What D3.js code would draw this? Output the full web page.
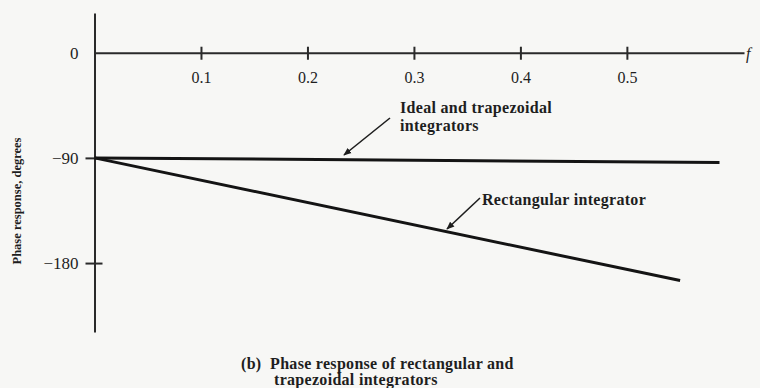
<!DOCTYPE html>
<html>
<head>
<meta charset="utf-8">
<script src="https://cdn.jsdelivr.net/npm/d3@7"></script>
<style>
  body { margin: 0; background: #f7f7f5; }
  svg { display: block; }
  .axis path, .axis line { stroke: #2a2a2a; stroke-width: 2; }
  .axis text { font-family: "Liberation Serif", serif; font-size: 16px; fill: #1e1e1e; }
  .axis--y text { font-size: 17px; }
  .lbl { font-family: "Liberation Serif", serif; font-weight: bold; fill: #1e1e1e; white-space: pre; }
</style>
</head>
<body>
<script>
// normalized frequency f
var freqIdeal = [0, 0.587];
var phaseIdeal = [-90, -94];      // ideal and trapezoidal integrators
var freqRect = [0, 0.55];
var phaseRect = [-90, -195];      // rectangular integrator
var xTicks = [0.1, 0.2, 0.3, 0.4, 0.5];
var yTicks = [0, -90, -180];

var width = 760, height = 388;

var svg = d3.select("body").append("svg")
    .attr("width", width)
    .attr("height", height);

var x = d3.scaleLinear().domain([0, 0.61]).range([94.5, 744]);
var y = d3.scaleLinear().domain([34, -239]).range([13, 332]);

// axis-x (through phase = 0)
var gx = svg.append("g")
    .attr("class", "axis axis--x")
    .attr("transform", "translate(0," + y(0) + ")")
    .call(d3.axisBottom(x).tickValues(xTicks).tickSizeOuter(0).tickFormat(d3.format(".1f")));
gx.selectAll(".tick line").attr("y1", -6).attr("y2", 7);
gx.selectAll(".tick text").attr("y", 19).attr("dy", "0.71em");

svg.append("text")
    .attr("x", 746)
    .attr("y", y(0) + 6)
    .attr("font-family", "Liberation Serif, serif")
    .attr("font-style", "italic")
    .attr("font-size", "16px")
    .attr("fill", "#1e1e1e")
    .text("f");

// axis-y
var gy = svg.append("g")
    .attr("class", "axis axis--y")
    .attr("transform", "translate(" + x(0) + ",0)")
    .call(d3.axisLeft(y).tickValues(yTicks).tickSizeOuter(0));
gy.selectAll(".tick line")
    .attr("x1", function(d) { return d === 0 ? 0 : -9; })
    .attr("x2", function(d) { return d === -180 ? 8 : 0; });
gy.selectAll(".tick text").attr("x", -16);

svg.append("text")
    .attr("class", "lbl")
    .attr("transform", "translate(21,201) rotate(-90)")
    .attr("text-anchor", "middle")
    .attr("font-size", "12.5px")
    .text("Phase response, degrees");

// lines
var line = d3.line()
    .x(function(d) { return x(d[0]); })
    .y(function(d) { return y(d[1]); });

svg.append("path")
    .datum(d3.zip(freqIdeal, phaseIdeal))
    .attr("d", line)
    .attr("fill", "none")
    .attr("stroke", "#141414")
    .attr("stroke-width", 3);

svg.append("path")
    .datum(d3.zip(freqRect, phaseRect))
    .attr("d", line)
    .attr("fill", "none")
    .attr("stroke", "#141414")
    .attr("stroke-width", 3);

// pointers
svg.append("defs").append("marker")
    .attr("id", "tip")
    .attr("viewBox", "0 0 10 10")
    .attr("refX", 9).attr("refY", 5)
    .attr("markerWidth", 5).attr("markerHeight", 5)
    .attr("orient", "auto")
  .append("path")
    .attr("d", "M0,1L10,5L0,9Z")
    .attr("fill", "#1e1e1e");

var pointers = [[390, 118, 344, 155], [480, 198, 447, 229]];
svg.selectAll(".ptr")
    .data(pointers)
  .enter().append("line")
    .attr("class", "ptr")
    .attr("x1", function(d) { return d[0]; })
    .attr("y1", function(d) { return d[1]; })
    .attr("x2", function(d) { return d[2]; })
    .attr("y2", function(d) { return d[3]; })
    .attr("stroke", "#1e1e1e")
    .attr("stroke-width", 1.6)
    .attr("marker-end", "url(#tip)");

function label(x0, y0, size, txt) {
  svg.append("text").attr("class", "lbl")
      .attr("font-size", size + "px")
      .attr("letter-spacing", "0.3px")
      .attr("x", x0).attr("y", y0).text(txt);
}
label(400, 113, 16, "Ideal and trapezoidal");
label(400, 131, 16, "integrators");
label(482, 205, 16, "Rectangular integrator");

// caption
label(241, 369, 16, "(b)  Phase response of rectangular and");
label(274, 385, 16, "trapezoidal integrators");
</script>
</body>
</html>
